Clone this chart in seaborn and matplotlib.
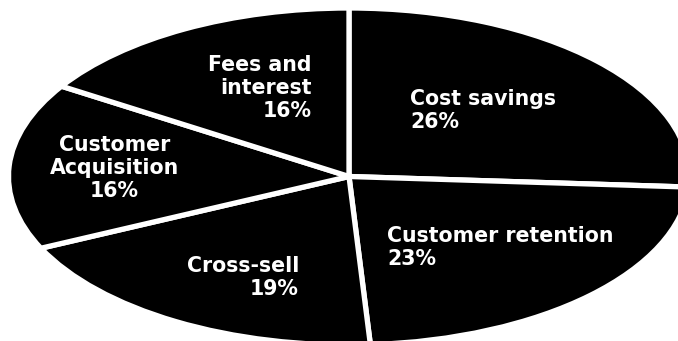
import matplotlib
matplotlib.use("Agg")
import matplotlib.pyplot as plt
import seaborn as sns

# Revenue sources and their shares (percent)
categories = ["Cost savings", "Customer retention", "Cross-sell",
              "Customer Acquisition", "Fees and interest"]
label_names = ["Cost savings", "Customer retention", "Cross-sell",
               "Customer\nAcquisition", "Fees and\ninterest"]
shares = [26, 23, 19, 16, 16]

sns.set_style("white")
plt.rcParams["font.family"] = ["DejaVu Sans"]

W, H = 678, 341
fig = plt.figure(figsize=(W / 100, H / 100), dpi=100)
fig.patch.set_facecolor("white")

# Stretched pie: the axes is wider than tall, so the pie renders as an ellipse
cx, cy, rx, ry = 349, 176.5, 340.5, 168.5
ax = fig.add_axes([(cx - rx) / W, (H - (cy + ry)) / H, 2 * rx / W, 2 * ry / H])

colors = sns.color_palette(["#000000"] * len(shares))
ax.pie(shares, colors=colors, startangle=90, counterclock=False,
       wedgeprops=dict(edgecolor="white", linewidth=3.8))
ax.set_aspect("auto")
ax.set_xlim(-1, 1)
ax.set_ylim(-1, 1)
ax.axis("off")

# Label anchors in pixels: (x, last-line baseline y, horizontal alignment)
anchors = [(410, 128, "left"), (387, 265, "left"), (299, 295, "right"),
           (114.5, 197, "center"), (312, 117, "right")]

for name, share, (px, py, ha) in zip(label_names, shares, anchors):
    fig.text(px / W, 1 - py / H, f"{name}\n{share}%", color="white",
             fontsize=14.8, fontweight="bold", ha=ha, va="baseline",
             multialignment=ha)

fig.savefig("out.png", dpi=100, facecolor="white")
